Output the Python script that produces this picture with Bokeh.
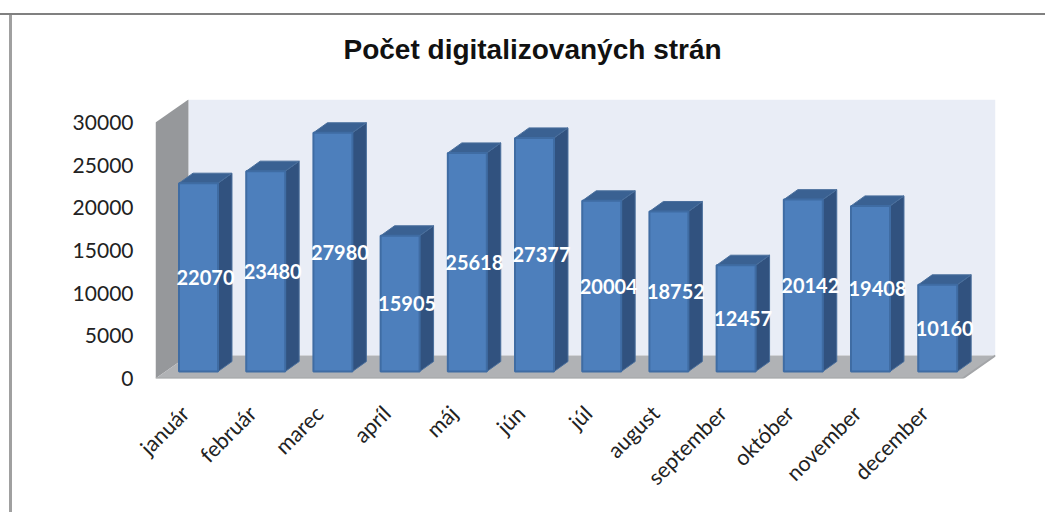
import math
from bokeh.plotting import figure
from bokeh.embed import file_html
from bokeh.resources import INLINE
from bokeh.models import FixedTicker, Range1d, ColumnDataSource, Title
from bokeh.core.properties import value

TITLE = "Počet digitalizovaných strán"
months = ["január", "február", "marec", "apríl", "máj", "jún", "júl", "august",
          "september", "október", "november", "december"]
pages = [22070, 23480, 27980, 15905, 25618, 27377, 20004, 18752, 12457, 20142, 19408, 10160]
y_ticks = [0, 5000, 10000, 15000, 20000, 25000, 30000]

# 3D projection, in data units
X0, X1 = -0.5, 12.0
Y_MAX = 30000
WALL_DX, WALL_DY = 0.49, 2695
BAR_W, BAR_SHIFT, BAR_BASE = 0.58, 0.14, 820
SIDE_DX, SIDE_DY = 0.208, 1170
LABEL_SHIFT = -0.06

p = figure(width=1045, height=512, frame_width=840, frame_height=279,
           output_backend="svg", toolbar_location=None,
           x_range=Range1d(X0, X1), y_range=Range1d(0, Y_MAX + WALL_DY),
           min_border_left=155, min_border_right=50, min_border_top=99, min_border_bottom=134)
p.outline_line_color = None
p.grid.visible = False
p.background_fill_color = None
p.border_fill_color = None
# chart-area border: top and left rules behind the transparent canvas
p.styles = {
    "background": "linear-gradient(#808080,#808080) 0 13px/100% 2px no-repeat,"
                  "linear-gradient(#A0A0A0,#A0A0A0) 9px 13px/3px 100% no-repeat,"
                  "#FFFFFF"
}

p.title = Title(text=TITLE, align="left", offset=188, text_font="Liberation Sans",
                text_font_size="28px", text_font_style="bold", text_color="#111111",
                standoff=66, vertical_align="top")

# walls and floor
xl, xb = X0, X0 + WALL_DX
xr = X1 - WALL_DX
p.patch([xb, X1, X1, xb], [WALL_DY, WALL_DY, Y_MAX + WALL_DY, Y_MAX + WALL_DY],
        fill_color="#E9EDF6", line_color=None)
p.patch([xl, xb, xb, xl], [0, WALL_DY, Y_MAX + WALL_DY, Y_MAX], fill_color="#96989B", line_color=None)
p.patch([xl, xr, X1, xb], [0, 0, WALL_DY, WALL_DY], fill_color="#B0B2B5", line_color=None)
p.line([xl, xr, X1], [0, 0, WALL_DY], line_color="#A3A5A8", line_width=2)

# bars
front_l = [i + BAR_SHIFT - BAR_W / 2 for i in range(len(pages))]
front_r = [x + BAR_W for x in front_l]
tops = [BAR_BASE + v for v in pages]

p.patches([[r, r + SIDE_DX, r + SIDE_DX, r] for r in front_r],
          [[BAR_BASE, BAR_BASE + SIDE_DY, t + SIDE_DY, t] for t in tops],
          fill_color="#31527F", line_color="#4A6F9C", line_width=1)
p.patches([[l, r, r + SIDE_DX, l + SIDE_DX] for l, r in zip(front_l, front_r)],
          [[t, t, t + SIDE_DY, t + SIDE_DY] for t in tops],
          fill_color="#3A6192", line_color="#4A6F9C", line_width=1)
p.quad(left=front_l, right=front_r, bottom=BAR_BASE, top=tops,
       fill_color="#4D7FBC", line_color="#3F6CA3", line_width=2)

# data labels
src = ColumnDataSource(dict(
    x=[l + (BAR_W + SIDE_DX) / 2 for l in front_l],
    y=[BAR_BASE + v / 2 for v in pages],
    t=[str(v) for v in pages]))
p.text("x", "y", text="t", source=src, text_color="#FFFFFF", text_font=value("Lato"),
       text_font_size="20px", text_font_style="bold", text_align="center", text_baseline="middle")

# axes
ax = p.yaxis[0]
ax.ticker = FixedTicker(ticks=y_ticks)
ax.axis_line_color = None
ax.major_tick_line_color = None
ax.minor_tick_line_color = None
ax.major_label_text_font = "Lato"
ax.major_label_text_font_size = "21px"
ax.major_label_text_color = "#222222"
ax.major_label_standoff = 16

month_ticks = [i + LABEL_SHIFT for i in range(len(months))]
bx = p.xaxis[0]
bx.ticker = FixedTicker(ticks=month_ticks)
bx.major_label_overrides = dict(zip(month_ticks, months))
bx.axis_line_color = None
bx.major_tick_line_color = None
bx.minor_tick_line_color = None
bx.major_label_text_font = "Lato"
bx.major_label_text_font_size = "21.5px"
bx.major_label_text_color = "#222222"
bx.major_label_orientation = math.pi / 4
bx.major_label_standoff = 25

open("out.html", "w").write(file_html(p, INLINE))
